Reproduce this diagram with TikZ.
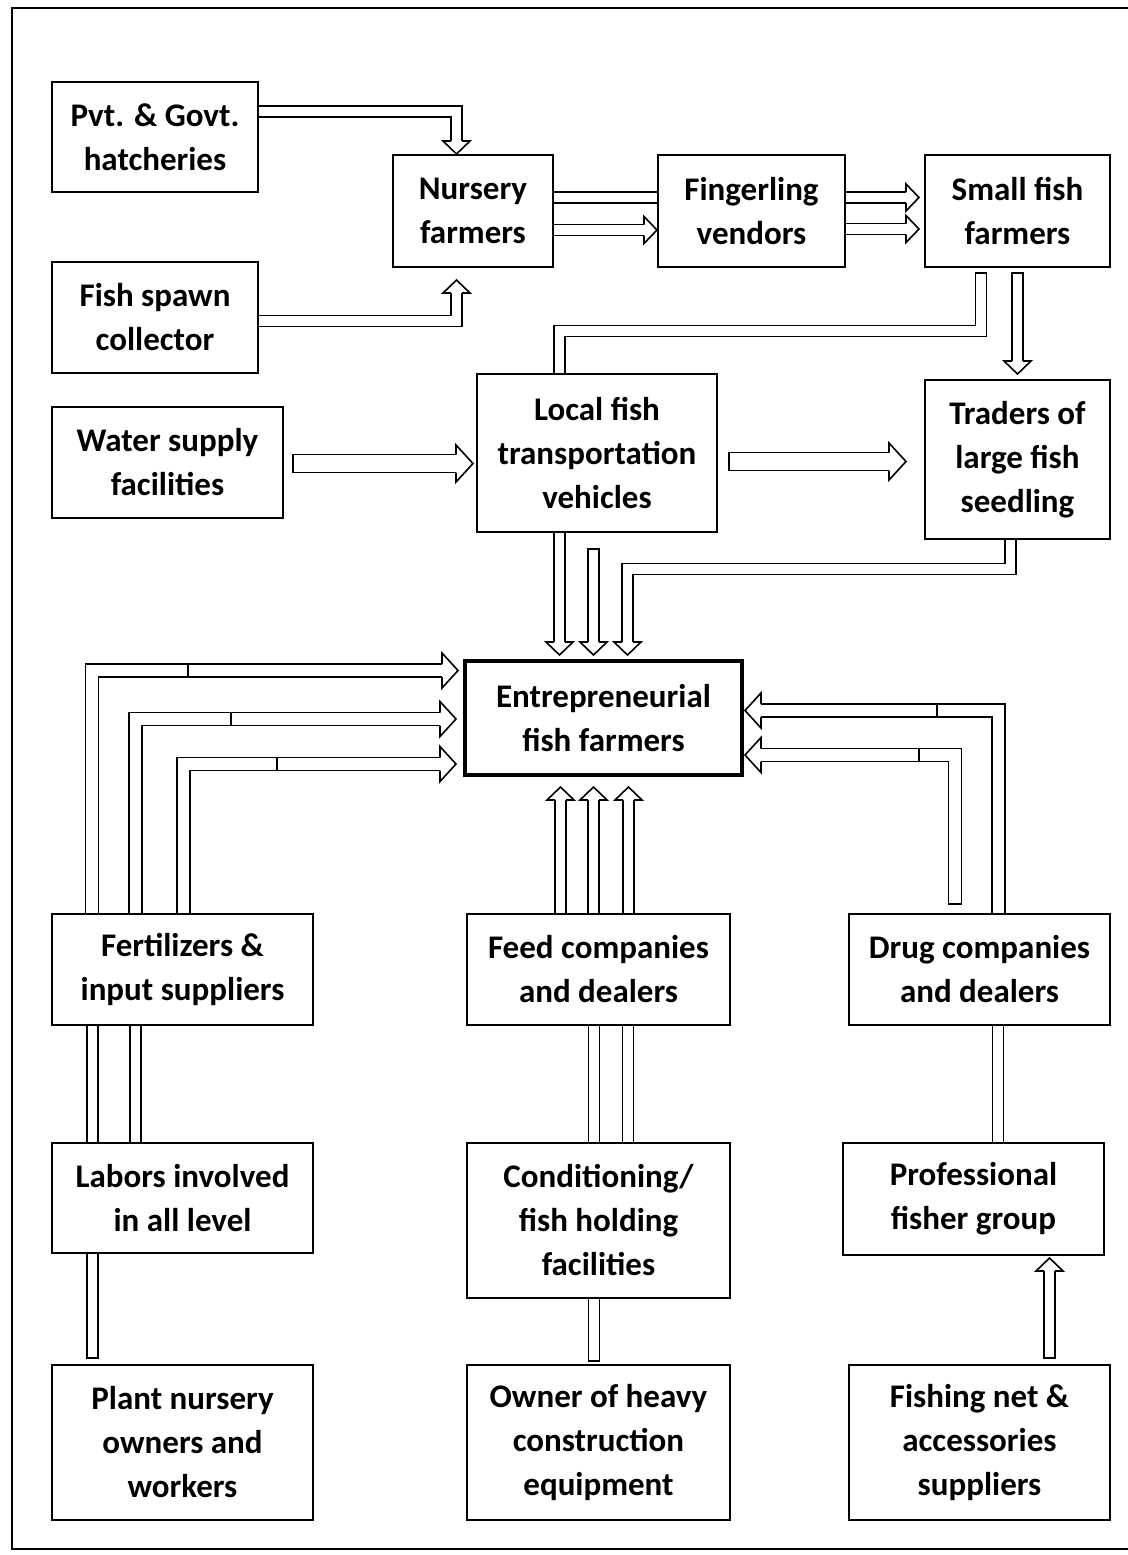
\documentclass[tikz,border=0pt]{standalone}
\usepackage{fontspec}
\setmainfont{Carlito}
\usetikzlibrary{arrows.meta}

% hollow block head: length, width (wings), inset (half shaft)
\pgfdeclarearrow{
  name = PipeHead,
  parameters = {\the\pgfarrowlength,\the\pgfarrowwidth,\the\pgfarrowinset},
  setup code = {
    \pgfarrowssettipend{0pt}
    \pgfarrowssetlineend{-\pgfarrowlength}
    \pgfarrowssetbackend{-\pgfarrowlength}
    \pgfarrowssetvisualbackend{-\pgfarrowlength}
    \pgfarrowshullpoint{0pt}{0pt}
    \pgfarrowsupperhullpoint{-\pgfarrowlength}{.5\pgfarrowwidth}
    \pgfarrowssavethe\pgfarrowlength
    \pgfarrowssavethe\pgfarrowwidth
    \pgfarrowssavethe\pgfarrowinset
  },
  drawing code = {
    \pgfsetlinewidth{0.8pt}
    \pgfpathmoveto{\pgfqpoint{-\pgfarrowlength}{\pgfarrowinset}}
    \pgfpathlineto{\pgfqpoint{-\pgfarrowlength}{.5\pgfarrowwidth}}
    \pgfpathlineto{\pgfqpoint{0pt}{0pt}}
    \pgfpathlineto{\pgfqpoint{-\pgfarrowlength}{-.5\pgfarrowwidth}}
    \pgfpathlineto{\pgfqpoint{-\pgfarrowlength}{-\pgfarrowinset}}
    \pgfusepathqstroke
  },
  defaults = {length=6.5pt, width=13.5pt, inset=2.75pt}
}
% closed end of a pipe
\pgfdeclarearrow{
  name = PipeCap,
  parameters = {\the\pgfarrowwidth},
  setup code = {
    \pgfarrowssettipend{0pt}
    \pgfarrowssetlineend{0pt}
    \pgfarrowssetbackend{0pt}
    \pgfarrowssetvisualbackend{0pt}
    \pgfarrowsupperhullpoint{0pt}{.5\pgfarrowwidth}
    \pgfarrowssavethe\pgfarrowwidth
  },
  drawing code = {
    \pgfsetlinewidth{0.8pt}
    \pgfsetrectcap
    \pgfpathmoveto{\pgfqpoint{0pt}{.5\pgfarrowwidth}}
    \pgfpathlineto{\pgfqpoint{0pt}{-.5\pgfarrowwidth}}
    \pgfusepathqstroke
  },
  defaults = {width=5.5pt}
}

\tikzset{
  box/.style={draw, line width=1pt, align=center, inner sep=0pt,
    font=\fontsize{16.5}{22}\selectfont\bfseries},
  pipe/.style={double, double distance=4.7pt, line width=0.8pt},
  arr/.style={pipe, -PipeHead},
  carr/.style={pipe, PipeCap-PipeHead},
  cpipe/.style={pipe, PipeCap-},
  widearr/.style={double, double distance=5.7pt, line width=0.8pt,
    -{PipeHead[length=8pt, width=17.5pt, inset=3.25pt]}},
  cwidearr/.style={widearr, {PipeCap[width=6.5pt]}-{PipeHead[length=8pt, width=17.5pt, inset=3.25pt]}},
  bigarr/.style={double, double distance=8.2pt, line width=0.8pt,
    {PipeCap[width=9pt]}-{PipeHead[length=8.5pt, width=18.5pt, inset=4.5pt]}}
}

\begin{document}
\begin{tikzpicture}[x=0.5pt, y=-0.5pt]
  \useasboundingbox (0,0) rectangle (1128,1555);
  % Frame
  \draw[line width=1.2pt] (1128,8) -- (12,8) -- (12,1549) -- (1128,1549);

  % Seed supply chain
  \node[box, minimum width=103pt, minimum height=55pt] (hatch) at (155,137) {Pvt. \& Govt.\\hatcheries};
  \node[box, minimum width=103pt, minimum height=55.5pt] (spawn) at (155,317.5) {Fish spawn\\collector};
  \node[box, minimum width=115.5pt, minimum height=55.5pt] (water) at (167.5,462.5) {Water supply\\facilities};
  \node[box, minimum width=80pt, minimum height=56pt] (nursery) at (473,211) {Nursery\\farmers};
  \node[box, minimum width=93.5pt, minimum height=56pt] (finger) at (751.5,211) {Fingerling\\vendors};
  \node[box, minimum width=92.5pt, minimum height=56pt] (small) at (1017.5,211) {Small fish\\farmers};
  \node[box, minimum width=120pt, minimum height=79pt] (local) at (597,453) {Local fish\\transportation\\vehicles};
  \node[box, minimum width=92.5pt, minimum height=79.5pt] (traders) at (1017.5,459.5) {Traders of\\large fish\\seedling};

  % Central actor
  \node[box, line width=2pt, minimum width=138.5pt, minimum height=57pt] (entre) at (603.5,718) {Entrepreneurial\\fish farmers};

  % Input suppliers
  \node[box, minimum width=130.5pt, minimum height=55.5pt] (fert) at (182.5,969.5) {Fertilizers \&\\input suppliers};
  \node[box, minimum width=131.5pt, minimum height=55.5pt] (feed) at (598.5,969.5) {Feed companies\\and dealers};
  \node[box, minimum width=130.5pt, minimum height=55.5pt] (drug) at (979.5,969.5) {Drug companies\\and dealers};
  \node[box, minimum width=130.5pt, minimum height=55pt] (labor) at (182.5,1198) {Labors involved\\in all level};
  \node[box, minimum width=131.5pt, minimum height=77.5pt] (cond) at (598.5,1220.5) {Conditioning/\\fish holding\\facilities};
  \node[box, minimum width=130.5pt, minimum height=56pt] (prof) at (973.5,1199) {Professional\\fisher group};
  \node[box, minimum width=130.5pt, minimum height=77.5pt] (plant) at (182.5,1442.5) {Plant nursery\\owners and\\workers};
  \node[box, minimum width=131.5pt, minimum height=77.5pt] (owner) at (598.5,1442.5) {Owner of heavy\\construction\\equipment};
  \node[box, minimum width=130.5pt, minimum height=77.5pt] (net) at (979.5,1442.5) {Fishing net \&\\accessories\\suppliers};

  % Top flows
  \draw[arr] ([yshift=12.75pt]hatch.east) -| ([xshift=-8.25pt]nursery.north);
  \draw[arr] ([yshift=-1.75pt]spawn.east) -| ([xshift=-8.25pt, yshift=-6pt]nursery.south);
  \draw[pipe] ([yshift=6.75pt]nursery.east) -- ([yshift=6.75pt]finger.west);
  \draw[arr] ([yshift=-9.5pt]nursery.east) -- ([yshift=-9.5pt]finger.west);
  \draw[arr] ([yshift=6.75pt]finger.east) -- ([xshift=-2.5pt, yshift=6.75pt]small.west);
  \draw[arr] ([yshift=-9pt]finger.east) -- ([xshift=-2.5pt, yshift=-9pt]small.west);
  \draw[cpipe] ([xshift=-18.25pt, yshift=-2.5pt]small.south) -- ++(0,58) -| ([xshift=-18.75pt]local.north);
  \draw[carr] ([yshift=-2.5pt]small.south) -- ([yshift=2.5pt]traders.north);
  \draw[bigarr] ([xshift=4.5pt, yshift=-0.5pt]water.east) -- ([xshift=-1.5pt, yshift=-5.25pt]local.west);
  \draw[bigarr] ([xshift=5.5pt, yshift=-4.25pt]local.east) -- ([xshift=-9pt, yshift=-1pt]traders.west);

  % Into entrepreneurial farmers from above
  \draw[arr] ([xshift=-18.75pt]local.south) -- ([xshift=-22pt, yshift=2pt]entre.north);
  \draw[carr] ([xshift=-1.75pt, yshift=-8pt]local.south) -- ([xshift=-5pt, yshift=2pt]entre.north);
  \draw[arr] ([xshift=-3.5pt]traders.south) -- ++(0,29) -| ([xshift=12pt, yshift=2pt]entre.north);

  % From the left
  \draw[widearr] ([xshift=-45.25pt]fert.north) |- ([xshift=-2.5pt, yshift=23.75pt]entre.west);
  \draw[widearr] ([xshift=-23.5pt]fert.north) |- ([xshift=-3.5pt, yshift=-0.5pt]entre.west);
  \draw[widearr] ([xshift=0.5pt]fert.north) |- ([xshift=-3.5pt, yshift=-23pt]entre.west);
  \draw[line width=0.8pt] (188,664) -- (188,677) (231,712.5) -- (231,725.5) (277,757.5) -- (277,770.5);
  \draw[pipe] ([xshift=-45pt]labor.north) -- ([xshift=-45pt]fert.south);
  \draw[pipe] ([xshift=-23.5pt]labor.north) -- ([xshift=-23.5pt]fert.south);
  \draw[cpipe] ([xshift=-45pt, yshift=3pt]plant.north) -- ([xshift=-45pt]labor.south);

  % From below
  \draw[arr] ([xshift=-19pt]feed.north) -- ([xshift=-21.5pt, yshift=-5pt]entre.south);
  \draw[arr] ([xshift=-2.5pt]feed.north) -- ([xshift=-5pt, yshift=-5pt]entre.south);
  \draw[arr] ([xshift=15pt]feed.north) -- ([xshift=12.5pt, yshift=-5pt]entre.south);
  \draw[pipe] ([xshift=-2.25pt]cond.north) -- ([xshift=-2.25pt]feed.south);
  \draw[pipe] ([xshift=14.75pt]cond.north) -- ([xshift=14.75pt]feed.south);
  \draw[cpipe] ([xshift=-2.25pt, yshift=1.5pt]owner.north) -- ([xshift=-2.25pt]cond.south);

  % From the right
  \draw[widearr] ([xshift=9.5pt]drug.north) |- ([xshift=0.5pt, yshift=3.75pt]entre.east);
  \draw[cwidearr] ([xshift=-12.25pt, yshift=4.5pt]drug.north) |- ([xshift=0.5pt, yshift=-18.5pt]entre.east);
  \draw[line width=0.8pt] (937,704) -- (937,717) (919,748.5) -- (919,761.5);
  \draw[pipe] ([xshift=12.25pt]prof.north) -- ([xshift=9.25pt]drug.south);
  \draw[carr] ([xshift=35pt, yshift=3pt]net.north) -- ([xshift=38pt, yshift=-1pt]prof.south);
\end{tikzpicture}
\end{document}
